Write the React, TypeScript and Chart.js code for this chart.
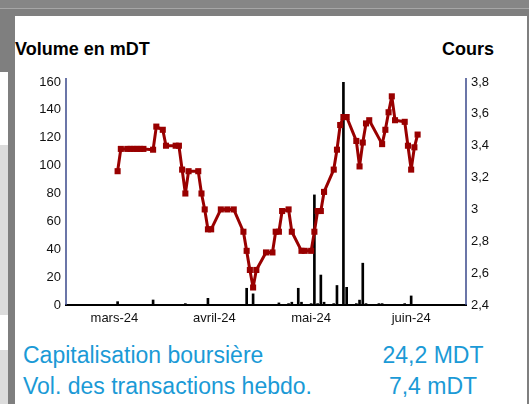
import React, { useEffect, useRef } from "react";
import { Chart, registerables } from "chart.js";

Chart.register(...registerables);

// ---- Data ----
const priceDates = [
  "2024-03-02", "2024-03-03", "2024-03-05", "2024-03-06", "2024-03-07", "2024-03-08",
  "2024-03-09", "2024-03-10", "2024-03-13", "2024-03-14", "2024-03-16", "2024-03-17",
  "2024-03-20", "2024-03-21", "2024-03-22", "2024-03-23", "2024-03-24", "2024-03-27",
  "2024-03-28", "2024-03-29", "2024-03-30", "2024-03-31", "2024-04-03", "2024-04-05",
  "2024-04-07", "2024-04-10", "2024-04-11", "2024-04-12", "2024-04-13", "2024-04-14",
  "2024-04-17", "2024-04-19", "2024-04-20", "2024-04-21", "2024-04-22", "2024-04-24",
  "2024-04-25", "2024-04-28", "2024-04-29", "2024-05-01", "2024-05-02", "2024-05-03",
  "2024-05-04", "2024-05-05", "2024-05-08", "2024-05-09", "2024-05-10", "2024-05-11",
  "2024-05-12", "2024-05-15", "2024-05-16", "2024-05-17", "2024-05-18", "2024-05-19",
  "2024-05-23", "2024-05-24", "2024-05-25", "2024-05-26", "2024-05-27", "2024-05-30",
  "2024-05-31", "2024-06-01", "2024-06-02", "2024-06-03",
];
const priceValues = [
  3.24, 3.38, 3.38, 3.38, 3.38, 3.38,
  3.38, 3.38, 3.375, 3.52, 3.5, 3.4,
  3.4, 3.4, 3.25, 3.1, 3.24, 3.24,
  3.1, 3.0, 2.875, 2.875, 3.0, 3.0,
  3.0, 2.86, 2.74, 2.62, 2.51, 2.62,
  2.73, 2.73, 2.86, 2.86, 2.99, 3.0,
  2.86, 2.74, 2.74, 2.74, 2.86, 2.99,
  2.99, 3.11, 3.25, 3.375, 3.53, 3.58,
  3.58, 3.43, 3.27, 3.42, 3.54, 3.56,
  3.41, 3.5, 3.61, 3.71, 3.56, 3.55,
  3.4, 3.25, 3.39, 3.47,
];

const volumeDates = [
  "2024-03-02", "2024-03-13", "2024-03-23", "2024-03-30", "2024-04-11", "2024-04-13",
  "2024-04-21", "2024-04-24", "2024-04-25", "2024-04-27", "2024-04-28", "2024-05-01",
  "2024-05-02", "2024-05-03", "2024-05-04", "2024-05-05", "2024-05-08", "2024-05-09",
  "2024-05-11", "2024-05-12", "2024-05-15", "2024-05-16", "2024-05-17", "2024-05-18",
  "2024-05-22", "2024-05-23", "2024-05-30", "2024-06-01",
];
const volumeValues = [
  2.4, 3.6, 1, 4.8, 12, 8,
  1.5, 1, 2, 12, 2, 1,
  79, 1, 21.5, 2, 1, 14,
  160, 12.7, 1, 3.5, 30, 1,
  1, 1, 1, 6.5,
];

const axisStartDate = "2024-02-15";
const axisEndDate = "2024-06-18";
const monthTickDates = ["2024-03-01", "2024-04-01", "2024-05-01", "2024-06-01"];
const monthTickLabels = ["mars-24", "avril-24", "mai-24", "juin-24"];

const volumeMin = 0;
const volumeMax = 160;
const volumeStep = 20;
const priceMin = 2.4;
const priceMax = 3.8;
const priceStep = 0.2;

const leftTitle = "Volume en mDT";
const rightTitle = "Cours";
const capLabel = "Capitalisation boursière";
const capValue = "24,2 MDT";
const volLabel = "Vol. des transactions hebdo.";
const volValue = "7,4 mDT";

// ---- Helpers ----
const BASE = Date.UTC(2024, 2, 1);
function dayNum(s: string): number {
  const [y, m, d] = s.split("-").map(Number);
  return (Date.UTC(y, m - 1, d) - BASE) / 86400000;
}

const FONT = '"Liberation Sans", Arial, Helvetica, sans-serif';
const BLUE = "#1b9ad6";
const AXIS_BLUE = "#3b4a8c";

const axisLinesPlugin = {
  id: "axisLines",
  afterDatasetsDraw(chart: any) {
    const { ctx, chartArea: a } = chart;
    ctx.save();
    ctx.strokeStyle = AXIS_BLUE;
    ctx.lineWidth = 1.5;
    ctx.beginPath();
    ctx.moveTo(a.left, a.top - 4);
    ctx.lineTo(a.left, a.bottom);
    ctx.moveTo(a.right, a.top - 4);
    ctx.lineTo(a.right, a.bottom);
    ctx.stroke();
    ctx.restore();
  },
};

function PriceVolumeChart() {
  const ref = useRef<HTMLCanvasElement | null>(null);
  useEffect(() => {
    if (!ref.current) return;
    const tickFont = { family: FONT, size: 13 };
    const chart = new Chart(ref.current, {
      type: "bar",
      data: {
        datasets: [
          {
            type: "line",
            data: priceDates.map((d, i) => ({ x: dayNum(d), y: priceValues[i] })),
            yAxisID: "y1",
            borderColor: "#990000",
            backgroundColor: "#990000",
            borderWidth: 3,
            borderJoinStyle: "round",
            borderCapStyle: "round",
            pointStyle: "rect",
            pointRadius: 4.3,
            pointBorderWidth: 0,
            pointBackgroundColor: "#990000",
            tension: 0,
            order: 0,
          } as any,
          {
            type: "bar",
            data: volumeDates.map((d, i) => ({ x: dayNum(d), y: volumeValues[i] })),
            yAxisID: "y",
            backgroundColor: "#000000",
            barThickness: 2,
            order: 1,
          } as any,
        ],
      },
      options: {
        animation: false,
        responsive: false,
        maintainAspectRatio: false,
        layout: { padding: { top: 66, left: 0, right: 0, bottom: 0 } },
        plugins: { legend: { display: false }, tooltip: { enabled: false } },
        scales: {
          x: {
            type: "linear",
            offset: false,
            min: dayNum(axisStartDate),
            max: dayNum(axisEndDate),
            grid: { display: false, drawTicks: false, offset: false },
            border: { display: true, color: "#000000", width: 2 },
            ticks: {
              font: tickFont,
              color: "#111",
              padding: 6,
              autoSkip: false,
              maxRotation: 0,
              callback: (_v: any, i: number) => monthTickLabels[i],
            },
            afterBuildTicks: (s: any) => {
              s.ticks = monthTickDates.map((d) => ({ value: dayNum(d) }));
            },
            afterFit: (s: any) => {
              s.height = 21;
            },
          },
          y: {
            position: "left",
            min: volumeMin,
            max: volumeMax,
            grid: { display: false, drawTicks: false },
            border: { display: false },
            ticks: { stepSize: volumeStep, font: tickFont, color: "#111", padding: 5 },
            afterFit: (s: any) => {
              s.width = 51;
            },
          },
          y1: {
            position: "right",
            min: priceMin,
            max: priceMax,
            grid: { display: false, drawTicks: false },
            border: { display: false },
            ticks: {
              stepSize: priceStep,
              font: tickFont,
              color: "#111",
              padding: 5,
              callback: (v: any) => String(Math.round(Number(v) * 10) / 10).replace(".", ","),
            },
            afterFit: (s: any) => {
              s.width = 60;
            },
          },
        },
      } as any,
      plugins: [axisLinesPlugin],
    });
    return () => chart.destroy();
  }, []);
  return (
    <canvas
      ref={ref}
      width={511}
      height={310}
      style={{ position: "absolute", left: 15, top: 16, width: 511, height: 310 }}
    />
  );
}

export default function App() {
  return (
    <div
      style={{
        position: "fixed",
        left: 0,
        top: 0,
        width: 529,
        height: 404,
        background: "#7f7f7f",
        overflow: "hidden",
        fontFamily: FONT,
      }}
    >
      {/* top band details */}
      <div style={{ position: "absolute", left: 0, top: 0, width: 529, height: 8, background: "#868686" }} />
      <div style={{ position: "absolute", left: 0, top: 8, width: 529, height: 1, background: "#a6a6a6" }} />
      {/* left page fragments */}
      <div style={{ position: "absolute", left: 0, top: 72, width: 8, height: 73, background: "#ffffff" }} />
      <div style={{ position: "absolute", left: 0, top: 145, width: 8, height: 170, background: "#dcdcdc" }} />
      <div style={{ position: "absolute", left: 0, top: 315, width: 8, height: 35, background: "#ffffff" }} />
      <div style={{ position: "absolute", left: 0, top: 350, width: 8, height: 54, background: "#dcdcdc" }} />
      {/* white panel */}
      <div style={{ position: "absolute", left: 15, top: 16, width: 512, height: 388, background: "#ffffff" }} />

      <div
        style={{
          position: "absolute",
          left: 15,
          top: 40,
          fontSize: 18,
          lineHeight: "18px",
          fontWeight: "bold",
          color: "#000",
          whiteSpace: "nowrap",
        }}
      >
        {leftTitle}
      </div>
      <div
        style={{
          position: "absolute",
          right: 35,
          top: 40,
          fontSize: 18,
          lineHeight: "18px",
          fontWeight: "bold",
          color: "#000",
          whiteSpace: "nowrap",
        }}
      >
        {rightTitle}
      </div>

      <PriceVolumeChart />

      <div style={{ position: "absolute", left: 23, top: 344, fontSize: 23, lineHeight: "23px", color: BLUE, whiteSpace: "nowrap" }}>
        {capLabel}
      </div>
      <div style={{ position: "absolute", left: 23, top: 375, fontSize: 23, lineHeight: "23px", color: BLUE, whiteSpace: "nowrap" }}>
        {volLabel}
      </div>
      <div
        style={{
          position: "absolute",
          left: 333,
          width: 200,
          top: 344,
          fontSize: 23,
          lineHeight: "23px",
          color: BLUE,
          textAlign: "center",
          whiteSpace: "nowrap",
        }}
      >
        {capValue}
      </div>
      <div
        style={{
          position: "absolute",
          left: 333,
          width: 200,
          top: 375,
          fontSize: 23,
          lineHeight: "23px",
          color: BLUE,
          textAlign: "center",
          whiteSpace: "nowrap",
        }}
      >
        {volValue}
      </div>
    </div>
  );
}
